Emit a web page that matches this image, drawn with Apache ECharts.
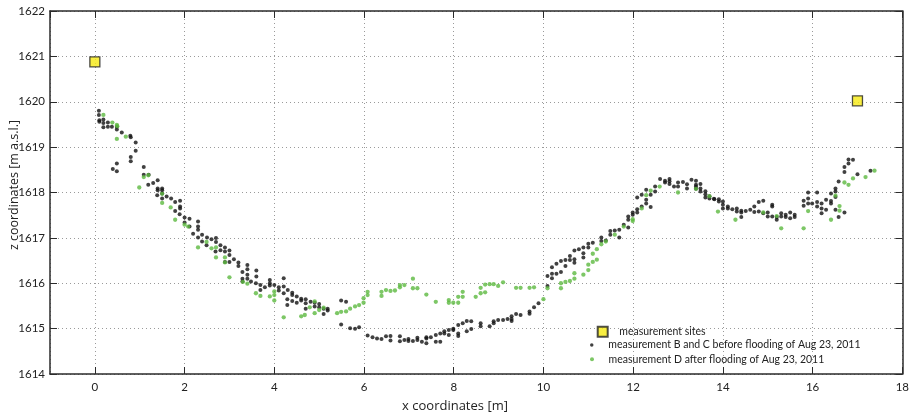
<!DOCTYPE html>
<html><head><meta charset="utf-8">
<script src="https://cdn.jsdelivr.net/npm/echarts@6/dist/echarts.min.js"></script>
<style>html,body{margin:0;padding:0;background:#fff}#c{width:912px;height:416px}</style>
</head><body><div id="c"></div>
<script>
const seriesNames = ['measurement sites', 'measurement B and C before flooding of Aug 23, 2011', 'measurement D after flooding of Aug 23, 2011'];
const xName = 'x coordinates [m]';
const yName = 'z coordinates [m a.s.l.]';
const sites = [[0, 1620.88], [17, 1620.02]];
const before = [
[0.09,1619.80],[0.09,1619.71],[0.10,1619.59],[0.10,1619.56],[0.19,1619.61],[0.19,1619.53],[0.19,1619.44],[0.29,1619.54],[0.29,1619.45],[0.38,1619.45],[0.49,1619.45],[0.49,1619.39],[0.60,1619.32],[0.79,1619.25],[0.80,1619.22],[0.91,1619.10],[0.91,1618.92],[0.80,1618.78],[0.80,1618.69],[0.49,1618.64],[0.40,1618.52],[0.49,1618.47],[1.09,1618.56],[1.09,1618.39],[1.20,1618.39],[1.30,1618.21],[1.40,1618.27],[1.19,1618.17],[1.40,1618.09],[1.40,1618.05],[1.50,1618.09],[1.50,1618.05],[1.50,1617.98],[1.39,1617.94],[1.50,1617.87],[1.60,1617.91],[1.70,1617.87],[1.79,1617.79],[1.90,1617.82],[1.90,1617.69],[1.90,1617.65],[1.79,1617.59],[1.89,1617.52],[2.00,1617.45],[2.11,1617.42],[2.00,1617.34],[2.11,1617.25],[2.30,1617.36],[2.30,1617.25],[2.30,1617.18],[2.19,1617.09],[2.39,1617.07],[2.50,1617.01],[2.30,1617.01],[2.39,1616.92],[2.49,1616.84],[2.60,1616.97],[2.70,1617.00],[2.70,1616.91],[2.69,1616.70],[2.80,1616.84],[2.90,1616.79],[2.90,1616.70],[2.80,1616.73],[3.00,1616.72],[3.00,1616.62],[2.90,1616.47],[3.00,1616.47],[3.10,1616.53],[3.20,1616.46],[3.20,1616.38],[3.29,1616.25],[3.29,1616.10],[3.29,1616.04],
[3.40,1616.40],[3.40,1616.31],[3.40,1616.19],[3.40,1616.10],[3.48,1616.04],[3.60,1616.28],[3.60,1616.15],[3.59,1616.00],[3.69,1615.96],[3.69,1615.85],[3.79,1615.91],[3.90,1616.07],[3.90,1616.00],[3.90,1615.95],[4.00,1615.96],[4.10,1615.91],[4.21,1616.11],[4.21,1615.93],[4.10,1615.84],[4.21,1615.78],[4.30,1615.85],[4.40,1615.79],[4.40,1615.74],[4.29,1615.65],[4.29,1615.52],[4.40,1615.61],[4.50,1615.71],[4.50,1615.57],[4.60,1615.66],[4.60,1615.62],[4.70,1615.65],[4.70,1615.56],[4.70,1615.44],[4.81,1615.59],[4.90,1615.57],[4.90,1615.49],[5.00,1615.54],[5.00,1615.47],[5.10,1615.44],[5.10,1615.32],[5.19,1615.44],[5.19,1615.40],[5.49,1615.62],[5.60,1615.59],[5.49,1615.09],[5.69,1615.01],[5.80,1615.00],[5.89,1615.03],[6.08,1614.85],[6.19,1614.81],[6.29,1614.78],[6.39,1614.77],[6.49,1614.83],[6.59,1614.84],[6.59,1614.74],
[6.80,1614.83],[6.80,1614.72],[6.90,1614.75],[6.99,1614.77],[6.99,1614.73],[7.09,1614.73],[7.19,1614.80],[7.19,1614.75],[7.29,1614.71],[7.39,1614.81],[7.39,1614.78],[7.39,1614.68],[7.49,1614.81],[7.60,1614.86],[7.60,1614.71],[7.70,1614.89],[7.70,1614.71],[7.79,1614.94],[7.79,1614.89],[7.89,1614.97],[7.89,1614.86],[7.99,1615.00],[7.99,1614.97],[8.10,1615.08],[8.10,1614.89],[8.10,1614.84],[8.20,1615.12],[8.29,1615.17],[8.29,1614.94],[8.39,1615.16],[8.39,1614.99],[8.60,1615.12],[8.60,1615.05],[8.80,1615.05],[8.89,1615.16],[8.89,1615.12],[8.99,1615.19],[9.10,1615.19],[9.20,1615.21],[9.29,1615.27],[9.29,1615.21],[9.29,1615.17],[9.39,1615.32],[9.49,1615.30],[9.69,1615.38],[9.69,1615.33],[9.79,1615.47],[9.89,1615.56],
[10.09,1616.16],[10.09,1615.94],[10.19,1616.35],[10.19,1616.21],[10.19,1616.11],[10.29,1616.43],[10.29,1616.21],[10.39,1616.49],[10.39,1616.25],[10.49,1616.51],[10.49,1616.38],[10.59,1616.60],[10.59,1616.51],[10.69,1616.72],[10.69,1616.53],[10.69,1616.45],[10.79,1616.75],[10.89,1616.79],[10.89,1616.66],[10.89,1616.57],[11.00,1616.87],[11.00,1616.79],[11.10,1616.89],[11.29,1617.01],[11.29,1616.93],[11.39,1616.94],[11.49,1617.15],[11.49,1617.07],[11.59,1617.16],[11.69,1617.18],[11.69,1617.01],[11.79,1617.29],[11.89,1617.47],[11.89,1617.40],[11.89,1617.23],[11.99,1617.56],[11.99,1617.51],[12.09,1617.63],[12.09,1617.56],[12.09,1617.89],[12.19,1617.95],[12.19,1617.69],[12.29,1618.06],[12.29,1617.84],[12.29,1617.76],[12.39,1617.95],[12.39,1617.68],[12.49,1618.13],[12.49,1618.02],[12.60,1618.30],[12.71,1618.26],[12.71,1618.22],[12.81,1618.30],[12.81,1618.25],[12.81,1618.19],[12.91,1618.13],[13.00,1618.22],[13.00,1618.13],[13.11,1618.23],[13.20,1618.18],[13.20,1618.09],[13.30,1618.28],[13.40,1618.26],[13.40,1618.17],[13.40,1618.13],[13.40,1618.08],[13.50,1618.19],[13.50,1618.09],[13.50,1618.02],[13.61,1618.03],[13.61,1617.96],[13.61,1617.89],[13.70,1617.92],[13.70,1617.87],[13.80,1617.86],
[13.81,1617.85],[13.91,1617.85],[13.91,1617.80],[14.00,1617.80],[14.00,1617.73],[14.00,1617.65],[14.11,1617.69],[14.11,1617.65],[14.21,1617.63],[14.31,1617.65],[14.31,1617.58],[14.41,1617.60],[14.41,1617.56],[14.41,1617.46],[14.51,1617.59],[14.61,1617.62],[14.70,1617.69],[14.70,1617.57],[14.80,1617.79],[14.90,1617.82],[14.80,1617.58],[14.90,1617.54],[15.00,1617.56],[15.00,1617.47],[15.10,1617.73],[15.10,1617.69],[15.10,1617.47],[15.20,1617.46],[15.20,1617.40],[15.30,1617.54],[15.30,1617.47],[15.40,1617.51],[15.40,1617.46],[15.50,1617.56],[15.50,1617.43],[15.60,1617.51],[15.60,1617.46],[15.80,1617.82],[15.80,1617.71],[15.90,1618.00],[15.90,1617.87],[15.90,1617.76],[15.99,1617.76],[16.10,1618.00],[16.10,1617.79],[16.10,1617.69],[16.20,1617.76],[16.20,1617.65],[16.20,1617.54],[16.30,1617.84],[16.30,1617.62],[16.41,1617.81],[16.41,1617.76],[16.41,1617.98],[16.51,1618.09],[16.51,1618.02],[16.51,1617.90],[16.51,1617.62],[16.58,1618.24],[16.58,1617.46],[16.71,1618.56],[16.71,1618.45],[16.71,1617.56],[16.80,1618.64],[16.80,1618.73],[16.90,1618.72],[17.00,1618.40],[17.29,1618.48]
];
const after = [
[0.19,1619.71],[0.39,1619.54],[0.49,1619.49],[0.50,1619.46],[0.69,1619.23],[0.49,1619.18],[0.99,1618.11],[1.09,1618.34],[1.19,1618.38],[1.50,1617.97],[1.50,1617.77],[1.69,1617.67],[1.79,1617.40],[2.00,1617.29],[2.08,1617.25],[2.30,1616.79],[2.49,1616.91],[2.60,1616.77],[2.70,1616.79],[2.70,1616.57],[2.90,1616.57],[2.90,1616.46],[3.00,1616.13],[3.30,1616.03],
[3.40,1615.99],[3.59,1615.78],[3.69,1615.72],[3.90,1615.71],[4.00,1615.82],[4.00,1615.74],[4.00,1615.62],[4.21,1615.25],[4.60,1615.27],[4.68,1615.30],[4.79,1615.47],[4.90,1615.60],[4.90,1615.34],[5.00,1615.41],[5.10,1615.46],[5.40,1615.34],[5.49,1615.37],[5.60,1615.38],[5.69,1615.44],[5.80,1615.49],[5.89,1615.52],[5.99,1615.57],[5.99,1615.67],[6.08,1615.81],[6.08,1615.74],[6.39,1615.81],[6.39,1615.72],[6.49,1615.85],[6.59,1615.83],[6.69,1615.84],
[6.80,1615.96],[6.80,1615.91],[6.90,1615.96],[7.09,1616.10],[7.09,1615.89],[7.19,1615.89],[7.39,1615.75],[7.60,1615.59],[7.89,1615.63],[7.89,1615.57],[7.99,1615.57],[8.10,1615.57],[8.10,1615.70],[8.20,1615.70],[8.20,1615.81],[8.49,1615.70],[8.60,1615.78],[8.70,1615.80],[8.60,1615.90],[8.70,1615.97],[8.80,1615.98],[8.89,1615.98],[8.99,1615.94],[9.10,1616.02],[9.39,1615.90],[9.49,1615.90],[9.69,1615.90],[9.79,1615.91],[10.00,1615.65],
[10.09,1615.89],[10.39,1615.89],[10.39,1616.00],[10.49,1616.03],[10.59,1616.05],[10.69,1616.10],[10.69,1616.22],[10.89,1616.19],[11.00,1616.29],[11.00,1616.41],[11.10,1616.47],[11.19,1616.52],[11.10,1616.65],[11.19,1616.75],[11.29,1616.86],[11.39,1616.92],[11.59,1617.07],[11.79,1617.25],[11.99,1617.37],[11.99,1617.41],[12.19,1617.65],[12.29,1617.94],[12.39,1618.04],[12.59,1618.13],[13.00,1618.00],[13.40,1618.08],[13.70,1617.92],
[13.89,1617.58],[14.28,1617.40],[14.90,1617.56],[15.20,1617.48],[15.30,1617.21],[15.80,1617.21],[15.90,1617.59],[16.41,1617.40],[16.51,1617.93],[16.60,1617.70],[16.60,1617.60],[16.71,1618.22],[16.80,1618.17],[16.90,1618.31],[17.18,1618.34],[17.38,1618.48]
];

const FONT = 'Lato';
const NAME_FONT = '"Open Sans"';
const axisCol = '#2b2b2b';
const plain = v => String(v);
const gridLine = { show: true, lineStyle: { color: '#9a9a9a', type: [1, 3], width: 1 } };
const baseX = { type: 'value', min: -1, max: 18, minInterval: 2, maxInterval: 2 };
const baseY = { type: 'value', min: 1614, max: 1622, interval: 1 };
const chart = echarts.init(document.getElementById('c'));
chart.setOption({
  animation: false,
  backgroundColor: '#fff',
  grid: { left: 50, right: 2, top: 11, bottom: 42 },
  xAxis: [
    Object.assign({}, baseX, {
      position: 'bottom',
      axisLine: { show: true, onZero: false, lineStyle: { color: axisCol, width: 1.5 } },
      axisTick: { show: true, inside: true, length: 7, lineStyle: { color: axisCol, width: 1 } },
      axisLabel: { show: true, showMinLabel: false, margin: 7, color: '#222', fontFamily: FONT, fontSize: 11.5, formatter: plain },
      splitLine: gridLine
    }),
    Object.assign({}, baseX, {
      position: 'top',
      axisLine: { show: true, onZero: false, lineStyle: { color: axisCol, width: 1.5 } },
      axisTick: { show: true, inside: true, length: 7, lineStyle: { color: axisCol, width: 1 } },
      axisLabel: { show: false },
      splitLine: { show: false }
    })
  ],
  yAxis: [
    Object.assign({}, baseY, {
      position: 'left',
      axisLine: { show: true, onZero: false, lineStyle: { color: axisCol, width: 1.5 } },
      axisTick: { show: true, inside: true, length: 7, lineStyle: { color: axisCol, width: 1 } },
      axisLabel: { show: true, margin: 5, color: '#222', fontFamily: FONT, fontSize: 11.5, formatter: plain },
      splitLine: gridLine
    }),
    Object.assign({}, baseY, {
      position: 'right',
      axisLine: { show: true, onZero: false, lineStyle: { color: axisCol, width: 1.5 } },
      axisTick: { show: true, inside: true, length: 7, lineStyle: { color: axisCol, width: 1 } },
      axisLabel: { show: false },
      splitLine: { show: false }
    })
  ],
  legend: [
    { data: [seriesNames[0]], orient: 'vertical', left: 596.7, top: 325.7, padding: 0, itemWidth: 10, itemHeight: 10,
      textStyle: { fontFamily: FONT, fontSize: 10.5, color: '#222', lineHeight: 12, padding: [0, 0, 0, 6.6] } },
    { data: [seriesNames[1]], orient: 'vertical', left: 590, top: 339, padding: 0, itemWidth: 23.2, itemHeight: 3.5, icon: 'circle',
      textStyle: { fontFamily: FONT, fontSize: 10.5, color: '#222', lineHeight: 12 } },
    { data: [seriesNames[2]], orient: 'vertical', left: 590, top: 353.3, padding: 0, itemWidth: 23.2, itemHeight: 4, icon: 'circle',
      textStyle: { fontFamily: FONT, fontSize: 10.5, color: '#222', lineHeight: 12 } }
  ],
  graphic: [
    { type: 'text', x: 455, y: 406, style: { text: xName, fill: '#222', font: '13px ' + NAME_FONT, textAlign: 'center', textVerticalAlign: 'middle' } },
    { type: 'text', x: 14, y: 185, rotation: Math.PI / 2, style: { text: yName, fill: '#222', font: '12.5px ' + NAME_FONT, textAlign: 'center', textVerticalAlign: 'middle' } }
  ],
  series: [
    { name: seriesNames[1], type: 'scatter', xAxisIndex: 0, yAxisIndex: 0, data: before, symbol: 'circle', symbolSize: 4,
      itemStyle: { color: '#111111' }, z: 2 },
    { name: seriesNames[2], type: 'scatter', xAxisIndex: 0, yAxisIndex: 0, data: after, symbol: 'circle', symbolSize: 4.3,
      itemStyle: { color: '#5cb940' }, z: 3 },
    { name: seriesNames[0], type: 'scatter', xAxisIndex: 0, yAxisIndex: 0, data: sites, symbol: 'rect', symbolSize: 10,
      itemStyle: { color: '#f6ea12', borderColor: '#222', borderWidth: 1.3 }, z: 4 }
  ]
});
</script></body></html>
